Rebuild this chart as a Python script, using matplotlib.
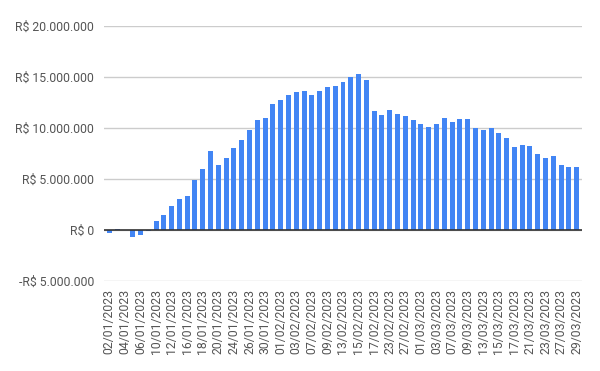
import matplotlib
matplotlib.use("Agg")
import matplotlib.pyplot as plt
from matplotlib.ticker import FuncFormatter

plt.rcParams['font.family'] = ['Roboto', 'DejaVu Sans']

# business days, jan-mar 2023 (no carnival 20-21/02)
dates = ["02/01/2023", "03/01/2023", "04/01/2023", "05/01/2023", "06/01/2023",
         "09/01/2023", "10/01/2023", "11/01/2023", "12/01/2023", "13/01/2023",
         "16/01/2023", "17/01/2023", "18/01/2023", "19/01/2023", "20/01/2023",
         "23/01/2023", "24/01/2023", "25/01/2023", "26/01/2023", "27/01/2023",
         "30/01/2023", "31/01/2023", "01/02/2023", "02/02/2023", "03/02/2023",
         "06/02/2023", "07/02/2023", "08/02/2023", "09/02/2023", "10/02/2023",
         "13/02/2023", "14/02/2023", "15/02/2023", "16/02/2023", "17/02/2023",
         "22/02/2023", "23/02/2023", "24/02/2023", "27/02/2023", "28/02/2023",
         "01/03/2023", "02/03/2023", "03/03/2023", "06/03/2023", "07/03/2023",
         "08/03/2023", "09/03/2023", "10/03/2023", "13/03/2023", "14/03/2023",
         "15/03/2023", "16/03/2023", "17/03/2023", "20/03/2023", "21/03/2023",
         "22/03/2023", "23/03/2023", "24/03/2023", "27/03/2023", "28/03/2023",
         "29/03/2023"]

# values in millions of R$
values = [-0.33, 0.12, -0.03, -0.72, -0.52,
          -0.13, 0.82, 1.47, 2.35, 2.97,
          3.36, 4.93, 6.0, 7.77, 6.4,
          7.02, 8.0, 8.78, 9.76, 10.73,
          10.99, 12.39, 12.78, 13.27, 13.56,
          13.66, 13.27, 13.66, 13.98, 14.15,
          14.54, 14.96, 15.25, 14.73, 11.61,
          11.22, 11.71, 11.32, 11.12, 10.73,
          10.34, 10.05, 10.34, 10.93, 10.54,
          10.83, 10.83, 9.95, 9.76, 9.95,
          9.46, 8.98, 8.1, 8.29, 8.2,
          7.41, 7.02, 7.22, 6.34, 6.15,
          6.15]

yticks = [-5e6, 0, 5e6, 10e6, 15e6, 20e6]


def brl(v, pos):
    s = "{:,.0f}".format(abs(v)).replace(",", ".")
    return ("-R$ " if v < 0 else "R$ ") + s


fig = plt.figure(figsize=(6, 3.71), dpi=100)
ax = fig.add_axes([0.1733, 0.2434, 0.7962, 0.6866])

x = list(range(len(dates)))
ax.bar(x, [v * 1e6 for v in values], width=0.64, color="#4285f4", zorder=3)

ax.set_ylim(-5e6, 20e6)
ax.set_xlim(-0.68, len(dates) - 1 + 0.64)
ax.set_yticks(yticks)
ax.yaxis.set_major_formatter(FuncFormatter(brl))
ax.grid(axis="y", color="#cccccc", linewidth=1, zorder=0)
ax.axhline(0, color="#333333", linewidth=1.2, zorder=4)

ax.set_xticks(x[::2])
ax.set_xticklabels(dates[::2], rotation=90)
ax.tick_params(axis="both", length=0, colors="#555555", labelsize=8.8)
ax.tick_params(axis="y", pad=7)
ax.tick_params(axis="x", pad=6)

for s in ax.spines.values():
    s.set_visible(False)

fig.savefig("out.png", dpi=100)
